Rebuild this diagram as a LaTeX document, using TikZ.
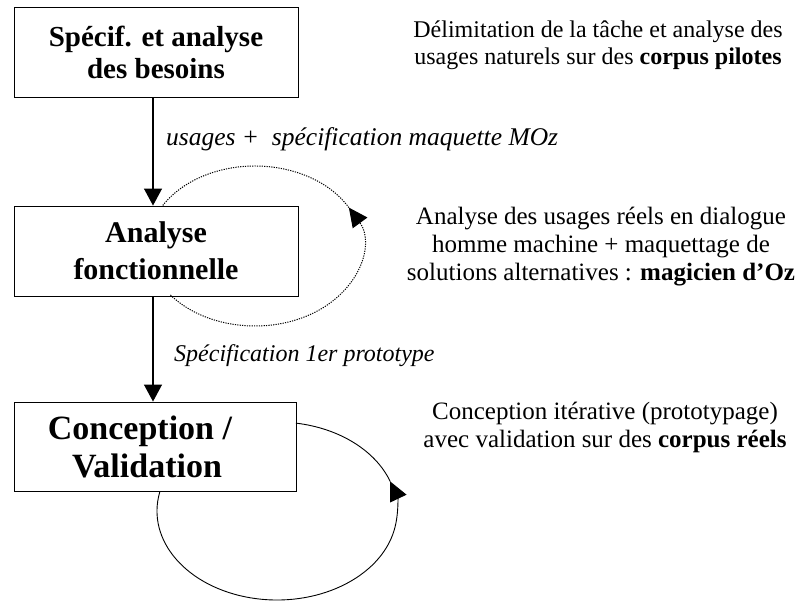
\documentclass[tikz,border=0pt]{standalone}
\usepackage{fontspec}
\setmainfont{Liberation Serif}
\usetikzlibrary{arrows.meta,calc}
\tikzset{
 box/.style={draw, line width=0.9pt, minimum width=284pt, minimum height=90pt, inner sep=0pt, align=center},
 note/.style={align=center, font=\fontsize{25}{28}\selectfont, inner sep=0pt},
 lab/.style={font=\itshape\fontsize{25}{29}\selectfont, inner sep=0pt, anchor=base west},
 flow/.style={line width=1.2pt, -{Triangle[width=18pt,length=17pt]}},
 loopd/.style={line width=1pt, dash pattern=on 1.2pt off 1.2pt},
 loops/.style={line width=0.9pt},
 looptip/.style={-{Triangle[width=18pt,length=19pt]}}
}
\begin{document}
\begin{tikzpicture}[x=1pt,y=-1pt]
\useasboundingbox (0,0) rectangle (800,601);
\node[box, font=\bfseries\fontsize{29}{32}\selectfont] (b1) at (156,52) {Spécif. et analyse\\des besoins};
\node[box, font=\bfseries\fontsize{30}{37}\selectfont] (b2) at (156,251) {Analyse\\fonctionnelle};
\node[box, minimum width=282pt, minimum height=89pt, font=\bfseries\fontsize{34}{38}\selectfont] (b3) at (155,446.5) {\hspace*{-30pt}Conception /\\\hspace*{-16pt}Validation};
\draw[flow] ([xshift=-3pt]b1.south) -- ([xshift=-3pt]b2.north);
\draw[flow] ([xshift=-3pt]b2.south) -- ([xshift=-2pt]b3.north);
\node[lab, font=\itshape\fontsize{25.5}{29}\selectfont] (l1) at (166,146) {usages + \ spécification maquette MOz};
\node[lab, font=\itshape\fontsize{24}{28}\selectfont] (l2) at (174,362) {Spécification 1er prototype};
\node[note, font=\fontsize{24}{27}\selectfont] (n1) at (598,45) {Délimitation de la tâche et analyse des\\usages naturels sur des \textbf{corpus pilotes}};
\node[note] (n2) at (601,246.4) {Analyse des usages réels en dialogue\\homme machine + maquettage de\\solutions alternatives : \textbf{magicien d’Oz}};
\node[note] (n3) at (605,427.4) {Conception itérative (prototypage)\\avec validation sur des \textbf{corpus réels}};
\coordinate (c1) at (255,246);
\draw[loopd, looptip] ($(c1)+(217.8:107pt and 80pt)$) arc[start angle=217.8, end angle=388.7, x radius=107pt, y radius=80pt];
\draw[loopd] ($(c1)+(28.7:107pt and 80pt)$) arc[start angle=28.7, end angle=150, x radius=107pt, y radius=80pt];
\coordinate (c2) at (277,511);
\draw[loops, looptip] ($(c2)+(167.7:120pt and 89pt)$) arc[start angle=167.7, end angle=379.4, x radius=120pt, y radius=89pt];
\draw[loops] ($(c2)+(19.4:120pt and 89pt)$) arc[start angle=19.4, end angle=80.9, x radius=120pt, y radius=89pt];
\end{tikzpicture}
\end{document}
